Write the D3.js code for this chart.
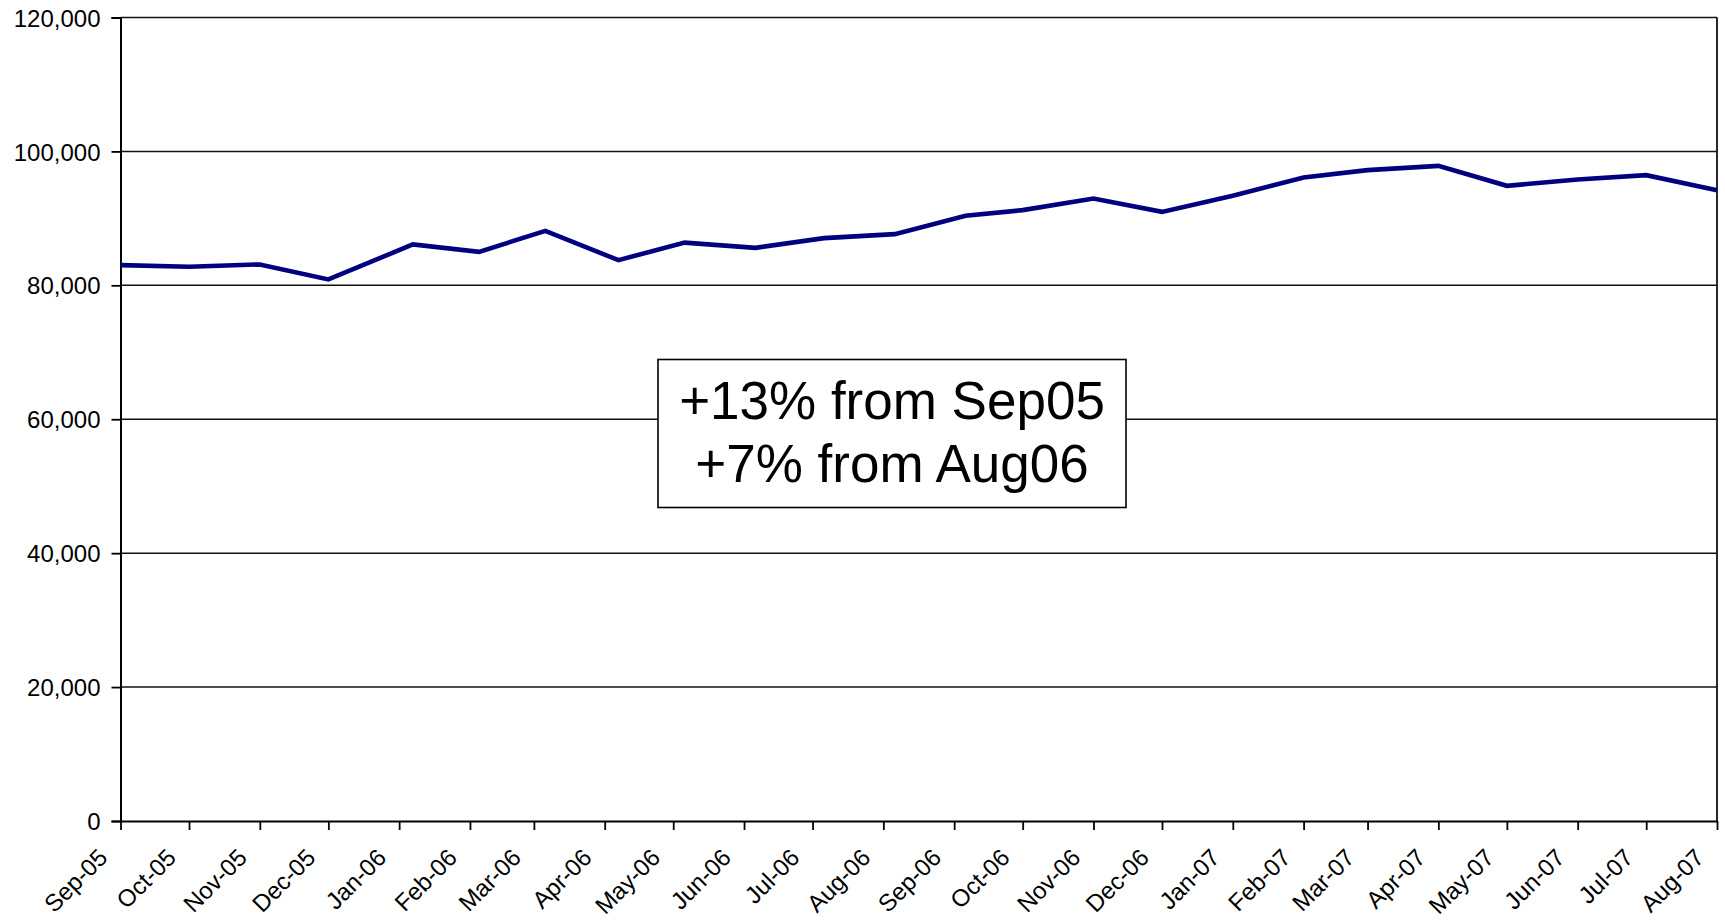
<!DOCTYPE html>
<html>
<head>
<meta charset="utf-8">
<script src="https://cdn.jsdelivr.net/npm/d3@7"></script>
<style>
    body { margin: 0; background: #fff; }
    text { font-family: "Liberation Sans", Arial, sans-serif; fill: #000; }
</style>
</head>
<body>
<div id="chart"></div>
<script>
// monthly readings (some months were taken a few days after the 1st)
const dates = ["2005-09-01", "2005-10-01", "2005-11-01", "2005-12-01", "2006-01-07", "2006-02-05",
    "2006-03-06", "2006-04-07", "2006-05-06", "2006-06-06", "2006-07-06", "2006-08-06",
    "2006-09-06", "2006-10-01", "2006-11-01", "2006-12-01", "2007-01-01", "2007-02-01",
    "2007-03-01", "2007-04-01", "2007-05-01", "2007-06-01", "2007-07-01", "2007-08-01"];
const values = [83020, 82770, 83120, 80880, 86110, 85000,
    88140, 83760, 86380, 85600, 87050, 87650,
    90380, 91230, 92970, 90970, 93380, 96110,
    97200, 97840, 94860, 95810, 96450, 94210];
const yTicks = [0, 20000, 40000, 60000, 80000, 100000, 120000];
const axisStart = "2005-09-01";
const axisEnd = "2007-08-01";
const noteLines = ["+13% from Sep05", "+7% from Aug06"];

const width = 1725;
const height = 922;
const margins = {top: 17.5, bottom: 101, left: 120.5, right: 8};

const parse = d3.timeParse("%Y-%m-%d");
const points = dates.map((d, i) => ({date: parse(d), value: values[i]}));

const svg = d3.select("#chart")
    .append("svg")
    .attr("width", width)
    .attr("height", height);

const x = d3.scaleTime()
    .domain([parse(axisStart), parse(axisEnd)])
    .range([margins.left, width - margins.right]);

const y = d3.scaleLinear()
    .domain([0, 120000])
    .range([height - margins.bottom, margins.top]);

// gridlines
svg.append("g")
    .selectAll("line")
    .data(yTicks.slice(1))
    .enter()
    .append("line")
    .attr("x1", margins.left)
    .attr("x2", width - margins.right)
    .attr("y1", d => y(d))
    .attr("y2", d => y(d))
    .attr("stroke", "#111")
    .attr("stroke-width", 1.5);

// right border of plot area
svg.append("line")
    .attr("x1", width - margins.right)
    .attr("x2", width - margins.right)
    .attr("y1", margins.top)
    .attr("y2", height - margins.bottom)
    .attr("stroke", "#111")
    .attr("stroke-width", 1.8);

// y axis
const yAxis = svg.append("g")
    .attr("transform", "translate(" + margins.left + ",0)")
    .call(d3.axisLeft(y).tickValues(yTicks).tickFormat(d3.format(",")).tickSize(9).tickPadding(11));
yAxis.select(".domain").attr("stroke", "#000").attr("stroke-width", 2);
yAxis.selectAll(".tick line").attr("stroke", "#000").attr("stroke-width", 1.8);
yAxis.selectAll("text")
    .attr("font-size", "24px")
    .attr("font-family", "Liberation Sans, Arial, sans-serif")
    .attr("dy", "0.36em");

// x axis, one tick per month
const xAxis = svg.append("g")
    .attr("transform", "translate(0," + (height - margins.bottom) + ")")
    .call(d3.axisBottom(x).ticks(d3.timeMonth.every(1)).tickFormat(d3.timeFormat("%b-%y")).tickSize(9).tickSizeOuter(0));
xAxis.select(".domain").attr("stroke", "#000").attr("stroke-width", 2.2);
xAxis.selectAll(".tick line").attr("stroke", "#000").attr("stroke-width", 1.8);
xAxis.selectAll("text")
    .attr("font-size", "24px")
    .attr("font-family", "Liberation Sans, Arial, sans-serif")
    .attr("text-anchor", "end")
    .attr("x", 0)
    .attr("y", 0)
    .attr("dy", 0)
    .attr("transform", "translate(-12,38) rotate(-45)");

// the series line
const line = d3.line()
    .x(d => x(d.date))
    .y(d => y(d.value));

svg.append("path")
    .datum(points)
    .attr("d", line)
    .attr("fill", "none")
    .attr("stroke", "#000080")
    .attr("stroke-width", 4.6)
    .attr("stroke-linejoin", "miter");

// annotation box
const note = svg.append("g").attr("transform", "translate(658,359.5)");
note.append("rect")
    .attr("width", 468)
    .attr("height", 148)
    .attr("fill", "#fff")
    .attr("stroke", "#000")
    .attr("stroke-width", 1.6);
note.selectAll("text")
    .data(noteLines)
    .enter()
    .append("text")
    .attr("x", 234)
    .attr("y", (d, i) => 59.5 + i * 62.7)
    .attr("text-anchor", "middle")
    .attr("font-size", "53px")
    .text(d => d);
</script>
</body>
</html>
